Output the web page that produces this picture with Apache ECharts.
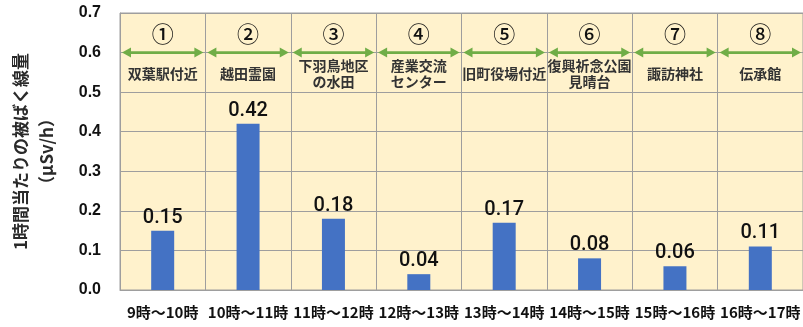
<!DOCTYPE html>
<html>
<head>
<meta charset="utf-8">
<script src="https://cdn.jsdelivr.net/npm/echarts@6/dist/echarts.min.js"></script>
<style>
  html, body { margin: 0; padding: 0; background: #ffffff; }
  #chart { width: 803px; height: 327px; }
</style>
</head>
<body>
<div id="chart"></div>
<script>
// Time slots along the measuring route
const timeSlots = ['9時～10時', '10時～11時', '11時～12時', '12時～13時', '13時～14時', '14時～15時', '15時～16時', '16時～17時'];
// Stop numbers and place names shown above each slot
const stopNumbers = ['①', '②', '③', '④', '⑤', '⑥', '⑦', '⑧'];
const placeNames = ['双葉駅付近', '越田霊園', '下羽鳥地区\nの水田', '産業交流\nセンター', '旧町役場付近', '復興祈念公園\n見晴台', '諏訪神社', '伝承館'];
// Exposure dose per hour (μSv/h)
const doseValues = [0.15, 0.42, 0.18, 0.04, 0.17, 0.08, 0.06, 0.11];
// Y axis ticks
const yTicks = [0, 0.1, 0.2, 0.3, 0.4, 0.5, 0.6, 0.7];

const ARROW_LEVEL = 0.6;
const NUMBER_LEVEL = 0.65;
const NAME_LEVEL = 0.55;
const GREEN = '#70AD47';
const GRID_GRAY = '#9E9E9E';

const chart = echarts.init(document.getElementById('chart'), null, { renderer: 'canvas' });

function renderHeader(params, api) {
  const idx = api.value(0);
  const band = api.size([1, 0])[0];
  const a = api.coord([idx, ARROW_LEVEL]);
  const n = api.coord([idx, NUMBER_LEVEL]);
  const p = api.coord([idx, NAME_LEVEL]);
  const x0 = a[0] - band / 2 + 2;
  const x1 = a[0] + band / 2 - 2;
  const y = a[1];
  const head = 9, half = 5;
  return {
    type: 'group',
    children: [
      { type: 'line', shape: { x1: x0 + head - 1, y1: y, x2: x1 - head + 1, y2: y },
        style: { stroke: GREEN, lineWidth: 2.8 } },
      { type: 'polygon', shape: { points: [[x0, y], [x0 + head, y - half], [x0 + head, y + half]] },
        style: { fill: GREEN } },
      { type: 'polygon', shape: { points: [[x1, y], [x1 - head, y - half], [x1 - head, y + half]] },
        style: { fill: GREEN } },
      { type: 'text', style: { text: stopNumbers[idx], x: n[0], y: n[1] + 1, align: 'center', verticalAlign: 'middle',
          font: '500 22px "Noto Sans CJK JP"', fill: '#111111' } },
      { type: 'text', style: { text: placeNames[idx], x: p[0], y: p[1] + 1, align: 'center', verticalAlign: 'middle',
          font: 'bold 14px "Noto Sans CJK JP"', lineHeight: 16, fill: '#333333' } }
    ]
  };
}

chart.setOption({
  animation: false,
  grid: {
    show: true, left: 107, top: 13, width: 701, height: 277,
    backgroundColor: '#FFF2CC', borderColor: GRID_GRAY, borderWidth: 1
  },
  xAxis: {
    type: 'category',
    data: timeSlots,
    axisLine: { lineStyle: { color: GRID_GRAY } },
    axisTick: { show: false },
    splitLine: { show: true, lineStyle: { color: GRID_GRAY, width: 1 } },
    axisLabel: { margin: 15, color: '#111111', fontSize: 15, fontWeight: 'bold', fontFamily: 'Noto Sans CJK JP', interval: 0 }
  },
  yAxis: {
    type: 'value',
    min: yTicks[0], max: yTicks[yTicks.length - 1], interval: 0.1,
    name: '1時間当たりの被ばく線量\n（μSv/h）',
    nameLocation: 'middle',
    nameRotate: 90,
    nameGap: 60,
    nameTextStyle: { fontSize: 17, fontWeight: 'bold', fontFamily: 'Noto Sans CJK JP', color: '#2a2a2a', lineHeight: 26 },
    axisLine: { show: true, lineStyle: { color: GRID_GRAY } },
    axisTick: { show: false },
    splitLine: { show: true, lineStyle: { color: GRID_GRAY, width: 1 } },
    axisLabel: { margin: 19, color: '#111111', fontSize: 16, fontWeight: 'bold', fontFamily: 'Liberation Sans',
      formatter: v => v.toFixed(1) }
  },
  series: [
    {
      type: 'bar',
      data: doseValues,
      barWidth: 23,
      itemStyle: { color: '#4472C4' },
      label: { show: true, position: 'top', distance: 3, fontSize: 20, fontWeight: 500, fontFamily: 'Roboto', color: '#111111',
        formatter: p => p.value.toFixed(2) },
      z: 3
    },
    {
      type: 'custom',
      renderItem: renderHeader,
      data: timeSlots.map((_, i) => [i, ARROW_LEVEL]),
      clip: false,
      silent: true,
      z: 4
    }
  ]
});
</script>
</body>
</html>
